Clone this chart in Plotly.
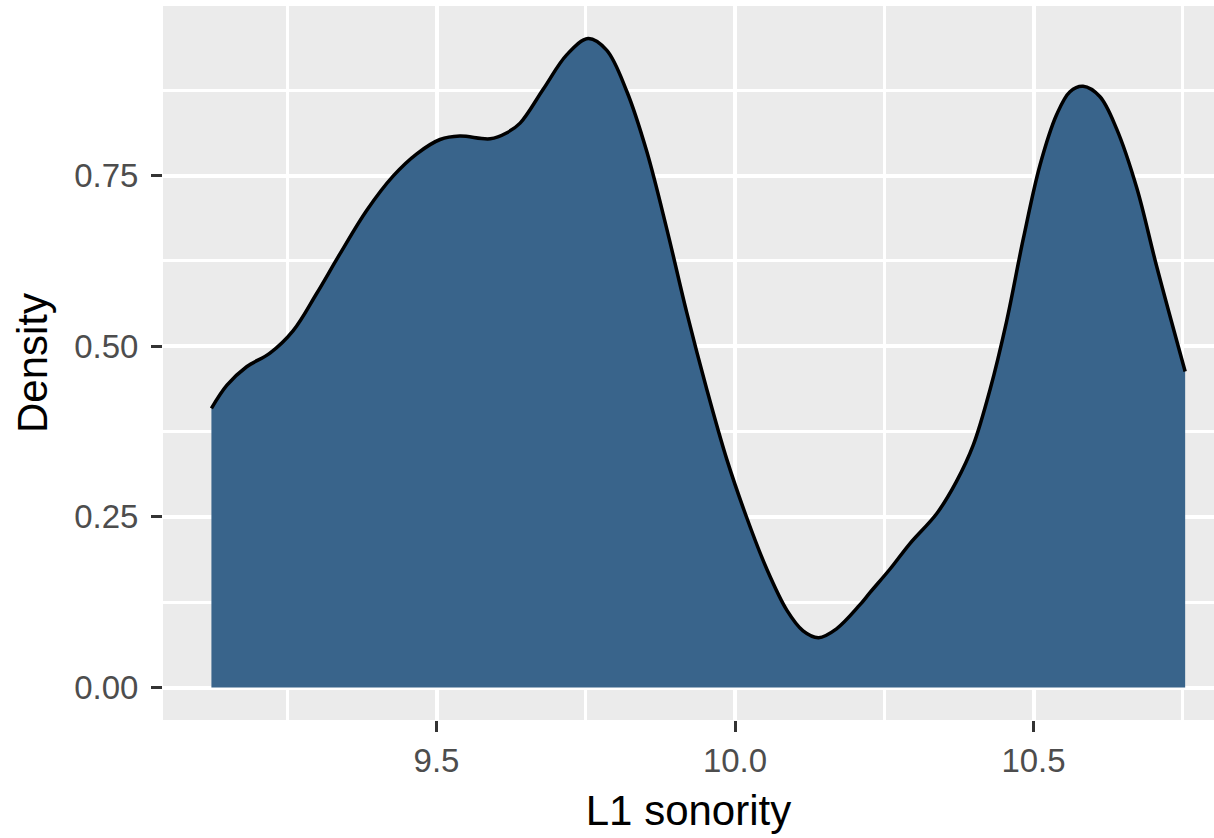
import plotly.graph_objects as go

# Density estimate of L1 sonority
sonority = [9.123, 9.149, 9.182, 9.221, 9.260, 9.299, 9.338, 9.383, 9.428, 9.467,
            9.506, 9.539, 9.590, 9.618, 9.640, 9.679, 9.718, 9.754, 9.785, 9.819,
            9.852, 9.886, 9.919, 9.953, 9.986, 10.020, 10.053, 10.087, 10.114, 10.140,
            10.170, 10.209, 10.226, 10.260, 10.293, 10.338, 10.371, 10.399, 10.427, 10.455,
            10.483, 10.511, 10.539, 10.561, 10.583, 10.611, 10.639, 10.673, 10.706, 10.754]
density = [0.409, 0.443, 0.470, 0.490, 0.523, 0.577, 0.635, 0.699, 0.750, 0.782,
           0.803, 0.808, 0.804, 0.813, 0.827, 0.877, 0.927, 0.951, 0.934, 0.873,
           0.786, 0.671, 0.550, 0.436, 0.335, 0.248, 0.174, 0.113, 0.083, 0.073,
           0.086, 0.121, 0.139, 0.174, 0.211, 0.255, 0.302, 0.355, 0.436, 0.537,
           0.658, 0.766, 0.840, 0.873, 0.881, 0.866, 0.819, 0.732, 0.618, 0.463]

x_ticks = [9.5, 10.0, 10.5]
x_labels = ["9.5", "10.0", "10.5"]
y_ticks = [0.0, 0.25, 0.50, 0.75]
y_labels = ["0.00", "0.25", "0.50", "0.75"]

fig = go.Figure()

fig.add_trace(go.Scatter(
    x=sonority,
    y=density,
    mode='lines',
    fill='tozeroy',
    fillcolor='#39648B',
    line=dict(color='black', width=3.5, shape='spline', smoothing=1.0),
    showlegend=False
))

axis_font = dict(family='Liberation Sans, Arial, sans-serif', size=33, color='#4D4D4D')
title_font = dict(family='Liberation Sans, Arial, sans-serif', size=42, color='black')

fig.update_layout(
    width=1214,
    height=838,
    margin=dict(l=163, r=0, t=6, b=118),
    paper_bgcolor='white',
    plot_bgcolor='#EBEBEB',
    xaxis=dict(
        range=[9.0419, 10.8023],
        tickvals=x_ticks,
        ticktext=x_labels,
        tickfont=axis_font,
        ticks='outside', ticklen=11, tickwidth=3, tickcolor='#333333',
        showgrid=True, gridcolor='white', gridwidth=3.5,
        minor=dict(tickvals=[9.25, 9.75, 10.25, 10.75], showgrid=True,
                   gridcolor='white', gridwidth=3, ticks=''),
        zeroline=False, showline=False,
        title=dict(text='L1 sonority', font=title_font, standoff=18),
    ),
    yaxis=dict(
        range=[-0.0476, 0.9986],
        tickvals=y_ticks,
        ticktext=y_labels,
        tickfont=axis_font,
        ticks='outside', ticklen=11, tickwidth=3, tickcolor='#333333',
        ticklabelstandoff=6,
        showgrid=True, gridcolor='white', gridwidth=3.5,
        minor=dict(tickvals=[0.125, 0.375, 0.625, 0.875], showgrid=True,
                   gridcolor='white', gridwidth=3, ticks=''),
        zeroline=False, showline=False,
        title=dict(text='Density', font=title_font, standoff=13),
    ),
)

# drop the default page margin so the figure sits at the window's corner
fig.write_html("out.html", config={'displayModeBar': False},
               post_script="document.body.style.margin='0';")
